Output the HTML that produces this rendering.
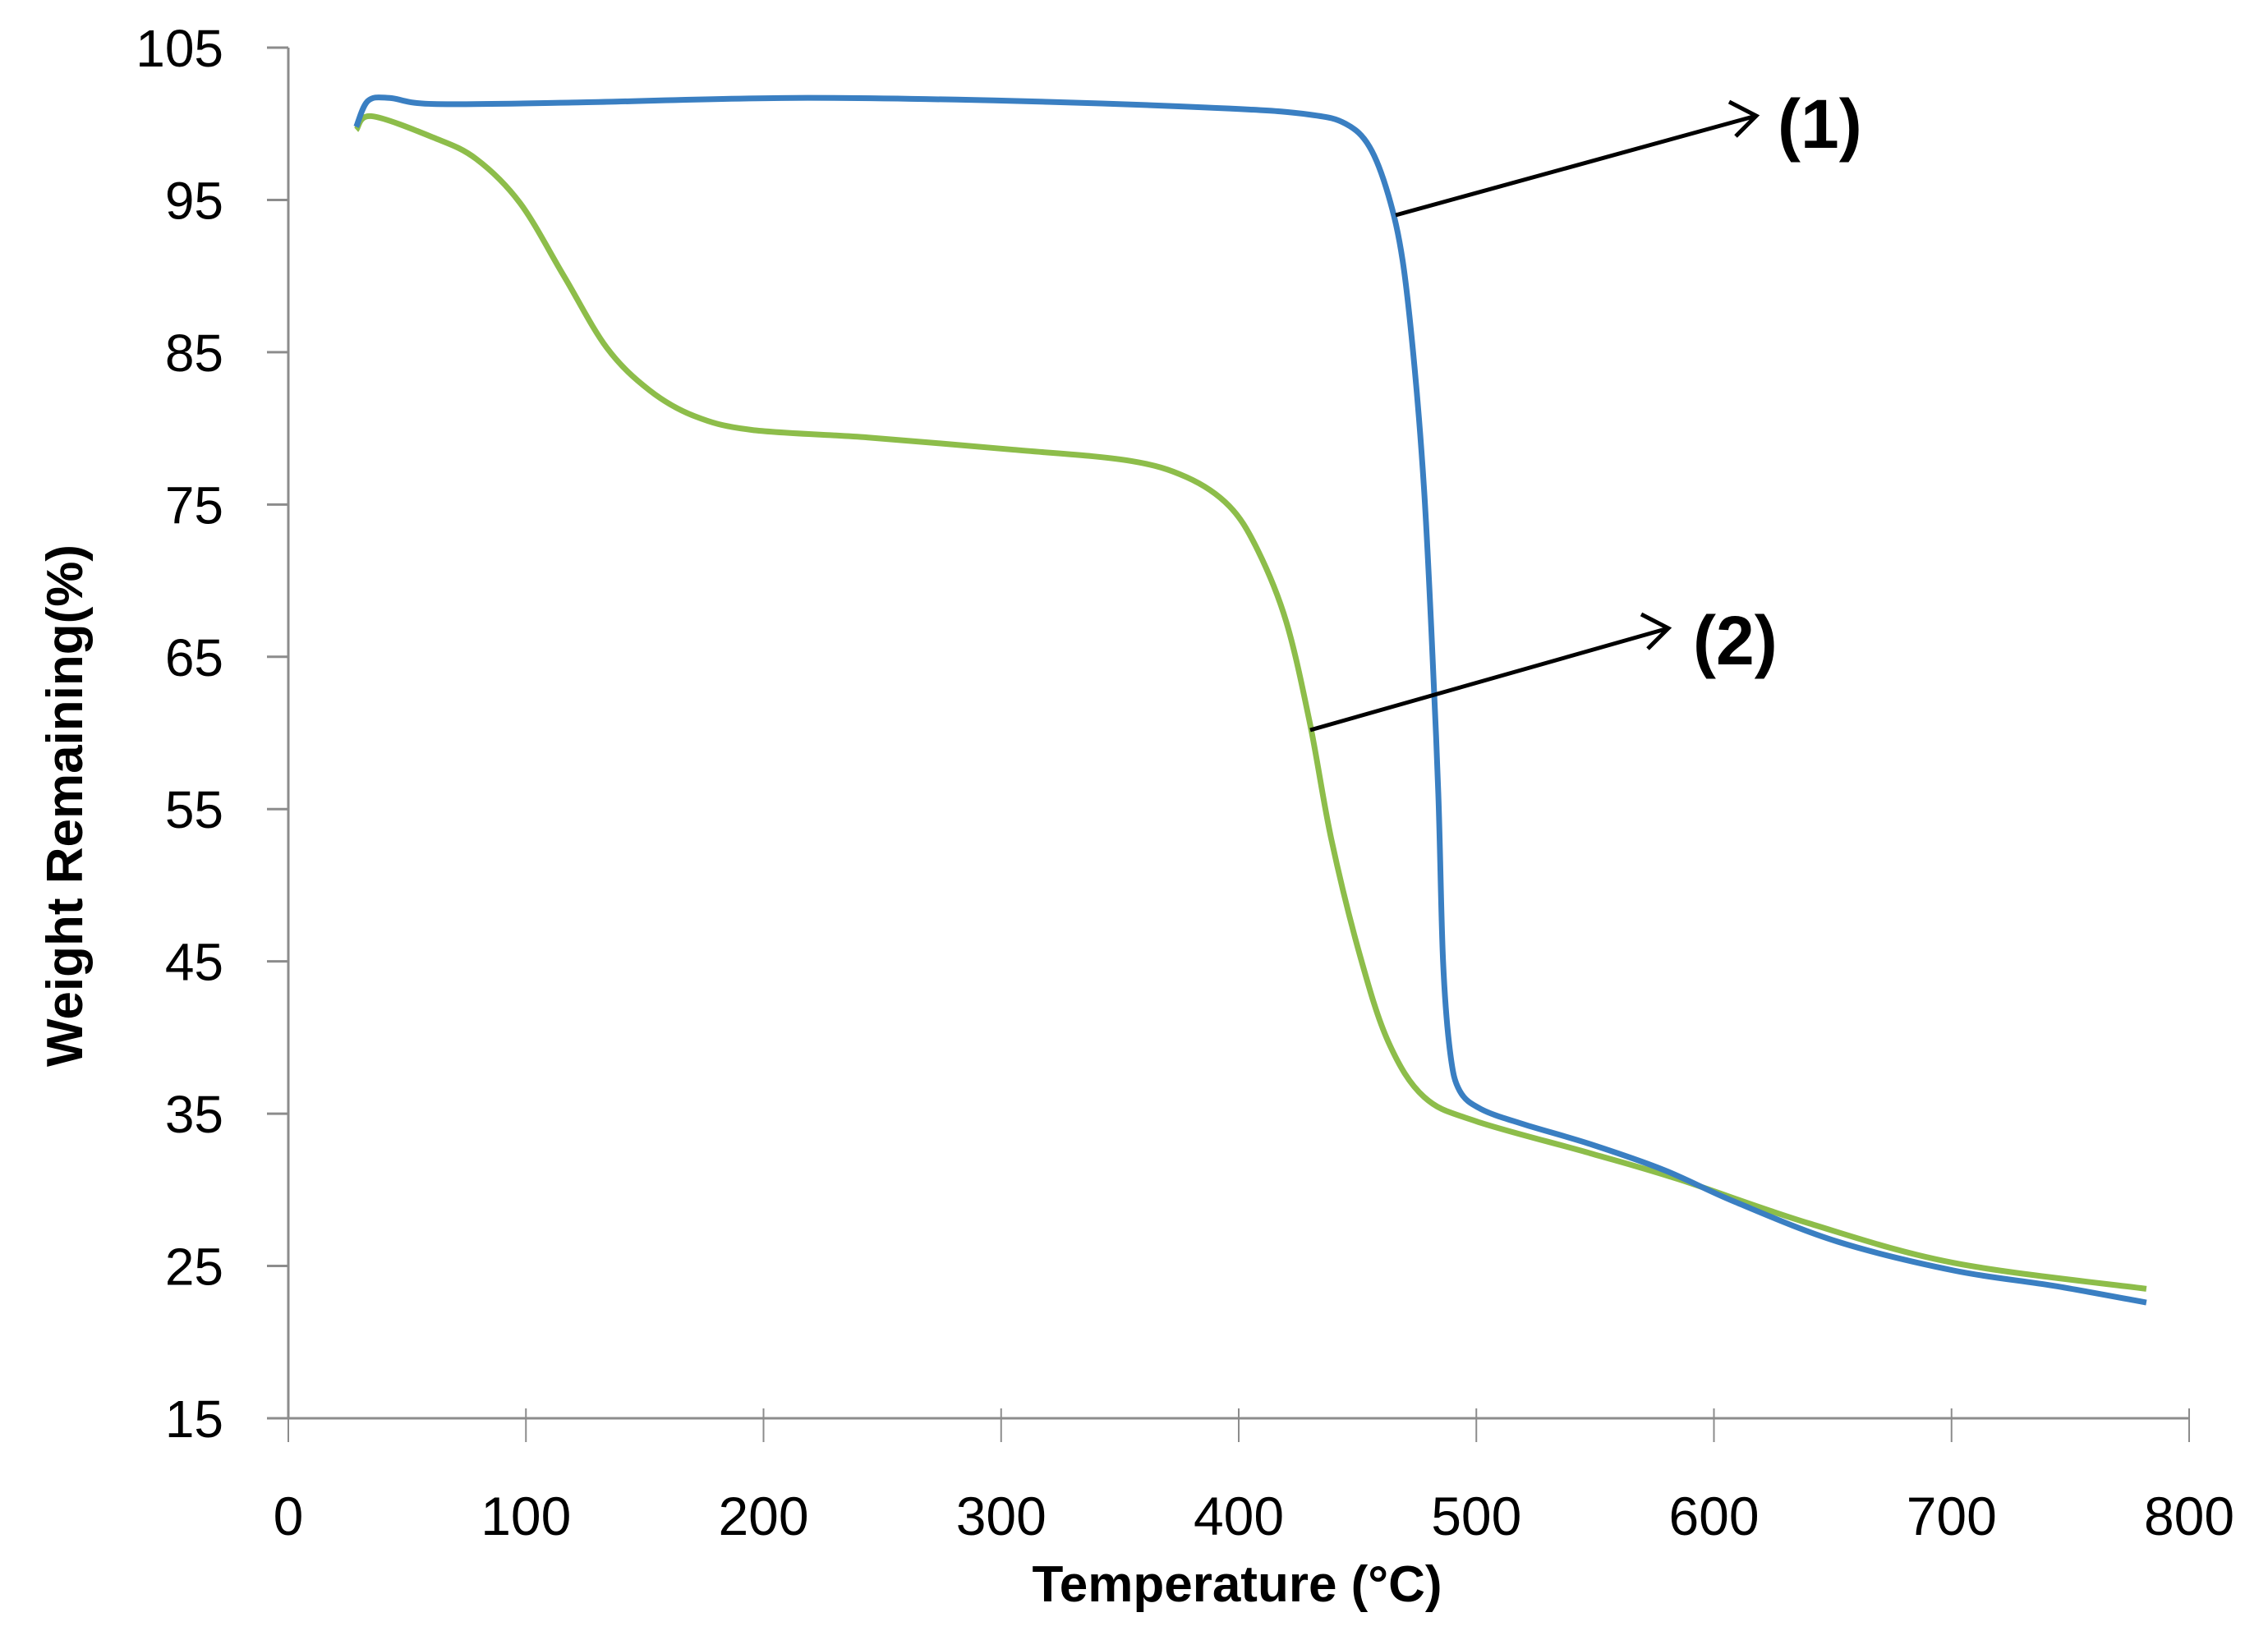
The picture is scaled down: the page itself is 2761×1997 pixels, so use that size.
<!DOCTYPE html>
<html><head><meta charset="utf-8"><style>
html,body{margin:0;padding:0;background:#fff;}
svg{display:block;font-family:"Liberation Sans",sans-serif;}
</style></head><body>
<svg id="chart" width="2761" height="1997" viewBox="0 0 2761 1997" xmlns="http://www.w3.org/2000/svg">
<rect width="2761" height="1997" fill="#fff"/>
<g id="axes"></g>
<g id="series"></g>
<text transform="translate(100,981) rotate(-90)" text-anchor="middle" font-size="62" font-weight="bold" fill="#000">Weight Remaining(%)</text>
<text x="1506" y="1950" text-anchor="middle" font-size="62" font-weight="bold" fill="#000">Temperature (°C)</text>
<g>
<line x1="1699" y1="262" x2="2138" y2="141" stroke="#000" stroke-width="5"/>
<polyline points="2105,124 2138,141 2113,166" fill="none" stroke="#000" stroke-width="5"/>
<text x="2164" y="180" font-size="84" font-weight="bold" fill="#000">(1)</text>
</g>
<g>
<line x1="1595" y1="889" x2="2031" y2="765" stroke="#000" stroke-width="5"/>
<polyline points="1998,748 2031,765 2006,790" fill="none" stroke="#000" stroke-width="5"/>
<text x="2061" y="809" font-size="84" font-weight="bold" fill="#000">(2)</text>
</g>
</svg>
<script>
const xTicks = [0,100,200,300,400,500,600,700,800];
const yTicks = [15,25,35,45,55,65,75,85,95,105];
const s1T = [28.6,33.5,42.6,61,122,213,305,396,430,445,455,463,469,474,478,481,484,486,489,493,502,520,548,579,609,652,701,743,782];
const s1V = [99.8,101.5,101.7,101.3,101.4,101.7,101.5,101,100.6,100,98.5,95.3,91,84,76,67,56,45,39,36.5,35.3,34.3,33,31.3,29.2,26.6,24.7,23.7,22.6];
const s2T = [28.6,35,61,79,97.5,116,134,152,171,195,244,305,353,378,396,408,420,430,439,451,463,478,500,548,585,640,701,782];
const s2V = [99.6,100.5,99.1,97.7,94.8,90,85.3,82.5,80.8,79.9,79.4,78.6,77.9,76.8,74.9,72,67.3,60.6,53,45.4,39.7,36.1,34.5,32.4,30.7,27.8,25.2,23.5];

const NS='http://www.w3.org/2000/svg';
const X0=351,X1=2665,Y0=1727,Y1=58;
function xs(t){return X0+(t-0)/(800-0)*(X1-X0);}
function ys(v){return Y0-(v-15)/(105-15)*(Y0-Y1);}
const axes=document.getElementById('axes');
function mk(tag,attrs,parent){const e=document.createElementNS(NS,tag);for(const k in attrs)e.setAttribute(k,attrs[k]);parent.appendChild(e);return e;}
let e;
e=mk('line',{x1:X0,y1:Y1,x2:X0,y2:Y0,stroke:'#8c8c8c','stroke-width':3},axes);


e=mk('line',{x1:X0-26,y1:Y0,x2:X1,y2:Y0,stroke:'#8c8c8c','stroke-width':3},axes);


yTicks.forEach(v=>{
  const y=ys(v);
  let t=mk('line',{x1:X0-26,y1:y,x2:X0,y2:y,stroke:'#8c8c8c','stroke-width':3},axes);
  
  
  let l=mk('text',{x:272,y:y+23,'text-anchor':'end','font-size':64,fill:'#000'},axes);
  l.textContent=v;
  
  
});
xTicks.forEach(v=>{
  const x=xs(v);
  let t=mk('line',{x1:x,y1:Y0-12,x2:x,y2:Y0+29,stroke:'#8c8c8c','stroke-width':2},axes);
  
  
  let l=mk('text',{x:x,y:1869,'text-anchor':'middle','font-size':66,fill:'#000'},axes);
  l.textContent=v;
  
  
});
function pathFor(T,V){
  const p=T.map((t,i)=>[xs(t),ys(V[i])]);
  let d='M'+p[0][0]+','+p[0][1];
  for(let i=0;i<p.length-1;i++){
    const p0=p[i-1]||p[i],p1=p[i],p2=p[i+1],p3=p[i+2]||p2;
    const c1=[p1[0]+(p2[0]-p0[0])/6,p1[1]+(p2[1]-p0[1])/6];
    const c2=[p2[0]-(p3[0]-p1[0])/6,p2[1]-(p3[1]-p1[1])/6];
    d+=' C'+c1[0]+','+c1[1]+' '+c2[0]+','+c2[1]+' '+p2[0]+','+p2[1];
  }
  return d;
}
const g=document.getElementById('series');
let s2=mk('path',{d:pathFor(s2T,s2V),fill:'none',stroke:'#8dbd4a','stroke-width':7,'stroke-linejoin':'round'},g);


let s1=mk('path',{d:pathFor(s1T,s1V),fill:'none',stroke:'#3a7fc2','stroke-width':7,'stroke-linejoin':'round'},g);


</script>
</body></html>
